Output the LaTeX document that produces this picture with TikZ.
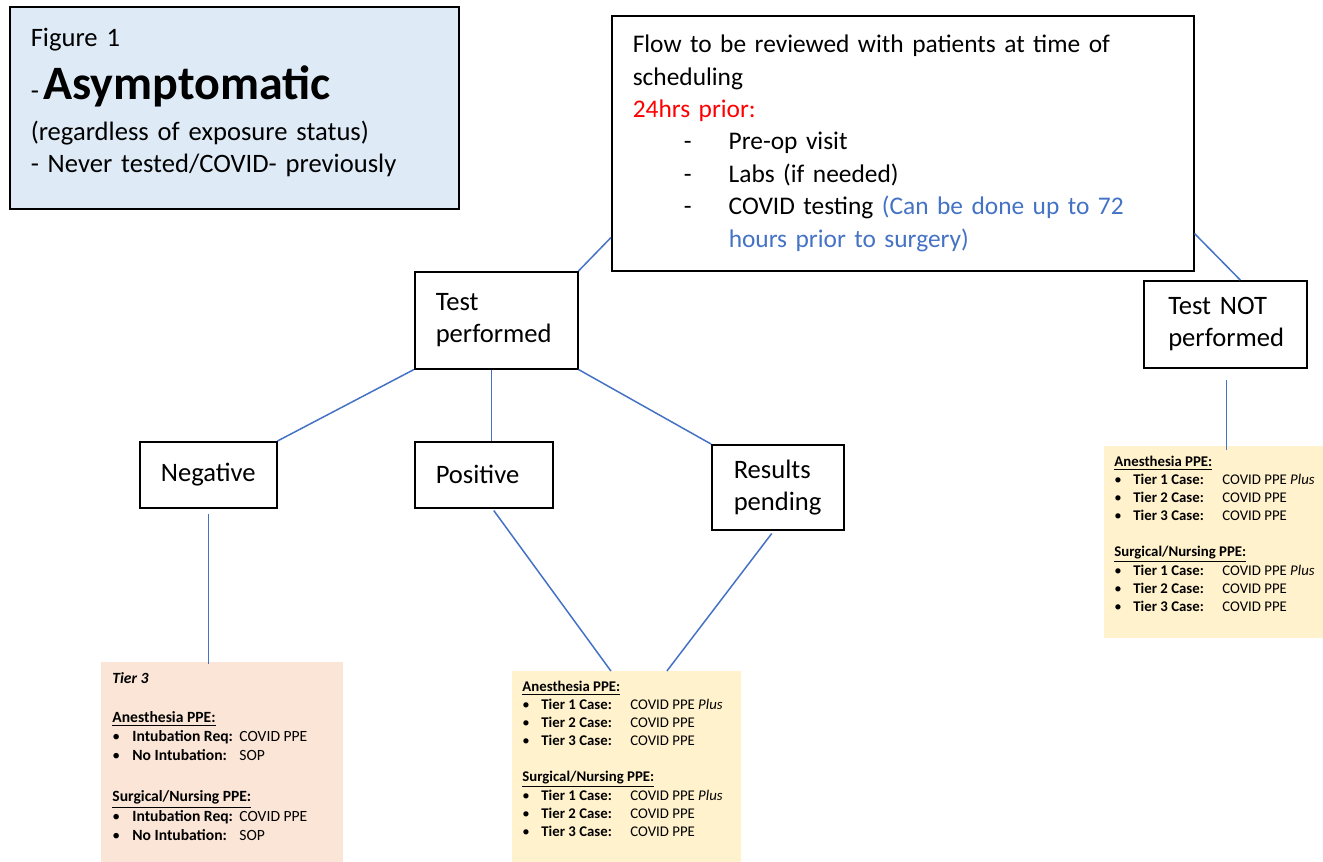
\documentclass[tikz,border=0pt]{standalone}
\usepackage{fontspec}
\setmainfont{Carlito}
\usetikzlibrary{calc}
\definecolor{linkblue}{RGB}{68,114,196}
\definecolor{figblue}{RGB}{222,235,247}
\definecolor{peach}{RGB}{251,229,214}
\definecolor{ppeyellow}{RGB}{255,242,204}
\newcommand{\bigfont}{\fontsize{13.3}{16.2}\selectfont}
\newcommand{\ppefont}{\fontsize{7.4}{9}\selectfont}
\newcommand{\dashitem}{\makebox[48pt][l]{\hspace*{25.5pt}-}}
\newcommand{\caserows}{%
\textbullet & \textbf{Tier 1 Case:} & COVID PPE \textit{Plus}\\
\textbullet & \textbf{Tier 2 Case:} & COVID PPE\\
\textbullet & \textbf{Tier 3 Case:} & COVID PPE\\}
\newcommand{\ppetiers}{%
\begin{tabular}{@{}p{9.5pt}@{}p{44.5pt}@{}l@{}}
\multicolumn{3}{@{}l}{\textbf{\underline{Anesthesia PPE:}}}\\
\caserows
\\
\multicolumn{3}{@{}l}{\textbf{\underline{Surgical/Nursing PPE:}}}\\
\caserows
\end{tabular}}
\begin{document}
\begin{tikzpicture}[x=0.5pt,y=-0.5pt,
	flowbox/.style={draw, line width=0.75pt, anchor=north west, align=left, inner ysep=0pt, font=\bigfont},
	ppebox/.style={anchor=north west, inner sep=0pt, font=\ppefont},
	link/.style={draw=linkblue, line width=0.75pt}]
	\useasboundingbox (0,0) rectangle (1323,862);

	\node[flowbox, fill=figblue, minimum height=101pt, text width=203.5pt, inner xsep=10.5pt] (fig) at (9,6)
		{Figure 1\\[6pt]
		-\,{\fontsize{24}{26}\selectfont\bfseries Asymptomatic}\\[4.5pt]
		(regardless of exposure status)\\
		- Never tested/COVID- previously\rule[-7pt]{0pt}{1pt}};
	\node[flowbox, minimum height=127.5pt, text width=270pt, inner xsep=10.5pt, font=\fontsize{12.7}{16.2}\selectfont] (flow) at (611,15)
		{Flow to be reviewed with patients at time of\\
		scheduling\\
		\textcolor{red}{24hrs prior:}\\
		\dashitem Pre-op visit\\
		\dashitem Labs (if needed)\\
		\dashitem COVID testing \textcolor{linkblue}{(Can be done up to 72}\\
		\hspace*{48pt}\textcolor{linkblue}{hours prior to surgery)}};

	\node[flowbox, minimum height=48.5pt, text width=60.5pt, inner xsep=10.5pt] (tp) at (414,271) {Test\\performed};
	\node[flowbox, minimum height=43.5pt, text width=57pt, inner xsep=12.25pt] (tnp) at (1143,280) {Test NOT\\performed};
	\node[flowbox, minimum height=33pt, minimum width=68.5pt, align=center] (neg) at (139,441) {Negative};
	\node[flowbox, minimum height=33pt, text width=48pt, inner xsep=10.5pt] (pos) at (414,441) {Positive};
	\node[flowbox, minimum height=42.5pt, text width=44pt, inner xsep=11pt] (res) at (711,444) {Results\\pending};

	\node[ppebox, fill=peach, font=\fontsize{7.8}{9.35}\selectfont] (t3) at (101,662)
		{\begin{minipage}[t][100pt][t]{121pt}\vspace*{4pt}\hspace*{5.5pt}%
		\begin{tabular}{@{}p{10pt}@{}p{53.5pt}@{}l@{}}
		\multicolumn{3}{@{}l}{\textbf{\textit{Tier 3}}}\\
		\\[1pt]
		\multicolumn{3}{@{}l}{\textbf{\underline{Anesthesia PPE:}}}\\
		\textbullet & \textbf{Intubation Req:} & COVID PPE\\
		\textbullet & \textbf{No Intubation:} & SOP\\
		\\[2pt]
		\multicolumn{3}{@{}l}{\textbf{\underline{Surgical/Nursing PPE:}}}\\
		\textbullet & \textbf{Intubation Req:} & COVID PPE\\
		\textbullet & \textbf{No Intubation:} & SOP\\
		\end{tabular}\end{minipage}};
	\node[ppebox, fill=ppeyellow] (mid) at (512,671)
		{\begin{minipage}[t][95.5pt][t]{114.5pt}\vspace*{3.5pt}\hspace*{5pt}\ppetiers\end{minipage}};
	\node[ppebox, fill=ppeyellow] (rt) at (1104,446)
		{\begin{minipage}[t][96pt][t]{109.5pt}\vspace*{3.5pt}\hspace*{5pt}\ppetiers\end{minipage}};

	\draw[link] ($(flow.south west)+(0,-34)$) -- (tp.north east);
	\draw[link] ($(flow.south east)+(0,-38)$) -- ($(tnp.north)+(15,0)$);
	\draw[link] (tp.south west) -- (neg.north east);
	\draw[link] ($(tp.south)+(-5,0)$) -- ($(tp.south |- pos.north)+(-5,0)$);
	\draw[link] (tp.south east) -- (res.north west);
	\draw[link] ($(neg.south)+(0,5)$) -- ($(neg.south |- t3.north)+(0,2)$);
	\draw[link] ($(pos.south)+(10,2)$) -- ($(mid.north)+(-16,0)$);
	\draw[link] ($(res.south)+(-6,3)$) -- ($(mid.north)+(40,0)$);
	\draw[link] ($(tnp.south)+(1,11)$) -- ($(tnp.south |- rt.north)+(1,4)$);
\end{tikzpicture}
\end{document}
